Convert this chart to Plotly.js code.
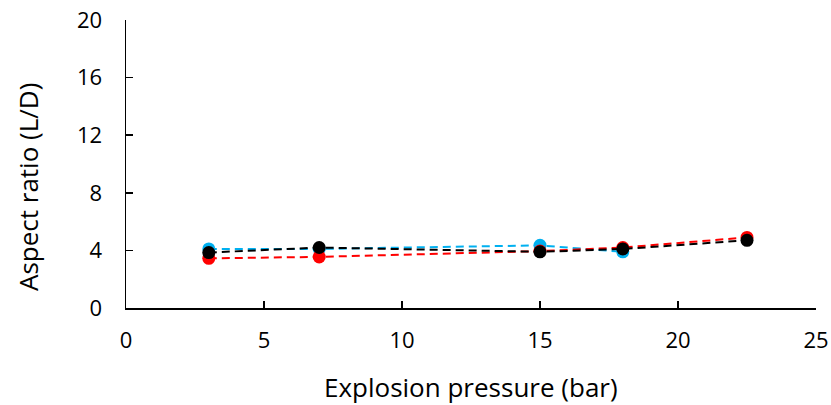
<!DOCTYPE html>
<html>
<head>
<meta charset="utf-8">
<script src="https://cdn.plot.ly/plotly-3.0.1.min.js"></script>
<style>html,body{margin:0;padding:0;background:#fff;}#chart{width:831px;height:405px;}</style>
</head>
<body>
<div id="chart"></div>
<script>
const cyanX = [3, 7, 15, 18];
const cyanY = [4.1, 4.1, 4.35, 3.9];
const redX = [3, 7, 15, 18, 22.5];
const redY = [3.45, 3.55, 3.95, 4.2, 4.9];
const blackX = [3, 7, 15, 18, 22.5];
const blackY = [3.85, 4.2, 3.9, 4.1, 4.7];
const xTicks = [0, 5, 10, 15, 20, 25];
const yTicks = [0, 4, 8, 12, 16, 20];

function series(x, y, color) {
  return {
    x: x, y: y, type: 'scatter', mode: 'lines+markers',
    line: {color: color, width: 2, dash: '8px,5px'},
    marker: {color: color, size: 13},
    showlegend: false, hoverinfo: 'skip'
  };
}

const tickFont = {family: 'Open Sans, sans-serif', size: 22, color: '#000'};
const titleFont = {family: 'Open Sans, sans-serif', size: 26, color: '#000'};
const data = [series(cyanX, cyanY, '#00B0F0'), series(redX, redY, '#FF0000'), series(blackX, blackY, '#000000')];
const layout = {
  width: 831, height: 405,
  margin: {l: 126, r: 15, t: 20, b: 97},
  paper_bgcolor: '#fff', plot_bgcolor: '#fff',
  font: tickFont,
  xaxis: {
    range: [0, 25], tickvals: xTicks, ticktext: xTicks.map(String),
    showgrid: false, zeroline: false, showline: true, linecolor: '#000', linewidth: 1.5,
    ticks: 'inside', ticklen: 7, tickcolor: '#000', tickwidth: 1.5,
    ticklabelstandoff: 12, tickfont: tickFont
  },
  yaxis: {
    range: [0, 20], tickvals: yTicks, ticktext: yTicks.map(String),
    showgrid: false, zeroline: false, showline: true, linecolor: '#000', linewidth: 1.5,
    ticks: 'inside', ticklen: 7, tickcolor: '#000', tickwidth: 1.5,
    ticklabelstandoff: 18, tickfont: tickFont
  },
  annotations: [
    {text: 'Explosion pressure (bar)', xref: 'paper', yref: 'paper', x: 0.5, y: -0.274,
     xanchor: 'center', yanchor: 'middle', showarrow: false, font: titleFont},
    {text: 'Aspect ratio (L/D)', xref: 'paper', yref: 'paper', x: -0.142, y: 0.42,
     xanchor: 'center', yanchor: 'middle', showarrow: false, textangle: -90, font: titleFont}
  ]
};
Plotly.newPlot('chart', data, layout, {displayModeBar: false, staticPlot: true});
</script>
</body>
</html>
